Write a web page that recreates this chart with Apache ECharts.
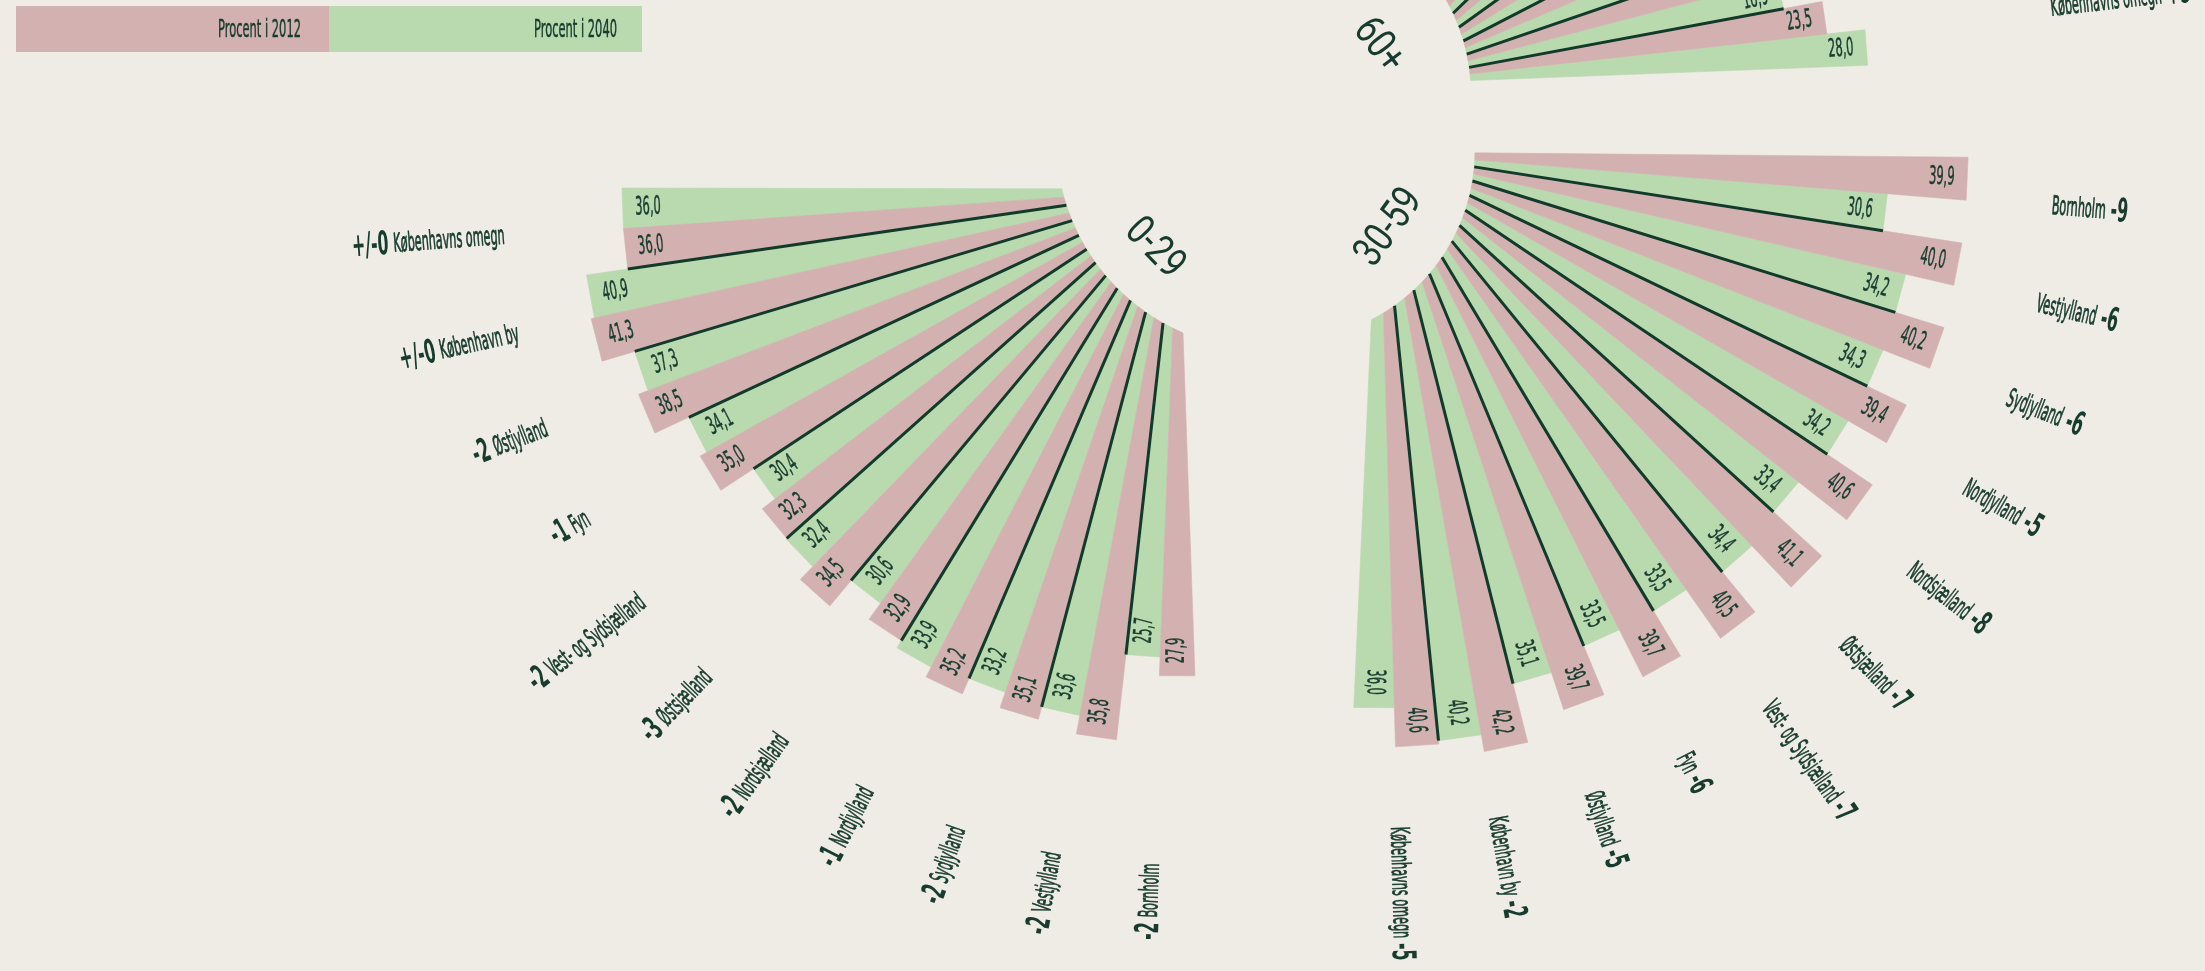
<!DOCTYPE html>
<html>
<head>
<meta charset="utf-8">
<title>Aldersfordeling 2012 og 2040</title>
<script src="https://cdn.jsdelivr.net/npm/echarts@6/dist/echarts.min.js"></script>
<style>
    html, body { margin: 0; padding: 0; background: #efece6; }
    #chart { width: 2205px; height: 971px; }
</style>
</head>
<body>
<div id="chart"></div>
<script>
// regions in the order they go round each fan (counter-clockwise)
const regions = ['Københavns omegn', 'København by', 'Østjylland', 'Fyn', 'Vest- og Sydsjælland',
    'Østsjælland', 'Nordsjælland', 'Nordjylland', 'Sydjylland', 'Vestjylland', 'Bornholm']

// 0-29 year olds, percent
const young2012 = [36.0, 41.3, 38.5, 35.0, 32.3, 34.5, 32.9, 35.2, 35.1, 35.8, 27.9]
const young2040 = [36.0, 40.9, 37.3, 34.1, 30.4, 32.4, 30.6, 33.9, 33.2, 33.6, 25.7]
const youngChange = ['+/-0', '+/-0', '-2', '-1', '-2', '-3', '-2', '-1', '-2', '-2', '-2']

// 30-59 year olds
const middle2012 = [40.6, 42.2, 39.7, 39.7, 40.5, 41.1, 40.6, 39.4, 40.2, 40.0, 39.9]
const middle2040 = [36.0, 40.2, 35.1, 33.5, 33.5, 34.4, 33.4, 34.2, 34.3, 34.2, 30.6]
const middleChange = ['-5', '-2', '-5', '-6', '-7', '-7', '-8', '-5', '-6', '-6', '-9']

// 60+ (mostly outside the picture, estimated)
const old2012 = [23.5, 16.5, 21.8, 25.3, 27.2, 24.4, 26.5, 25.4, 24.7, 24.2, 32.2]
const old2040 = [28.0, 18.9, 27.6, 32.4, 36.1, 33.2, 36.0, 31.9, 32.5, 32.2, 43.7]
const oldChange = ['+5', '+2', '+6', '+7', '+9', '+9', '+10', '+7', '+8', '+8', '+12']

const PINK = '#d3b1b0'
const GREEN = '#b9d9af'
const INK = '#173b2e'
const LINE = '#123a2b'
const BG = '#efece6'
const NARROW = '"Liberation Sans Narrow", "DejaVu Sans Condensed", "DejaVu Sans", sans-serif'

const RADIUS = 675      // px, the ring where the region names sit
const R_MIN = -29.4     // radius value at the fan centre
const R_MAX = 50        // radius value at the name ring
const TURN = 86         // angle units per full turn, one unit per bar

// hole: circle the bars start on, as [dx, dy, r] in px from the fan centre
const fans = [
    { name: '0-29', v2012: young2012, v2040: young2040, change: youngChange, center: [1178, 189], start: 179.9, inward: true, hole: [88, -49, 210] },
    { name: '30-59', v2012: middle2012, v2040: middle2040, change: middleChange, center: [1379, 152], start: 267.4, inward: false, hole: [-95, -2, 191] },
    { name: '60+', v2012: old2012, v2040: old2040, change: oldChange, center: [1380, 84], start: 2.2, inward: false, hole: [-100, 10, 191] }
]

const fmt = v => v.toFixed(1).replace('.', ',')

// unit vector pointing outwards along angle a
const outwards = (api, a) => {
    const c = api.coord([R_MIN, a])
    const q = api.coord([R_MAX, a])
    return [(q[0] - c[0]) / RADIUS, (q[1] - c[1]) / RADIUS]
}

// radius value where the ray at angle a leaves the hole circle
const holeValue = (fan, api, a) => {
    const u = outwards(api, a)
    const fx = -fan.hole[0]
    const fy = -fan.hole[1]
    const b = u[0] * fx + u[1] * fy
    const t = -b + Math.sqrt(b * b - (fx * fx + fy * fy - fan.hole[2] * fan.hole[2]))
    return R_MIN + t / RADIUS * (R_MAX - R_MIN)
}

// text reads towards the centre on the left fan, away from it on the others
const textRotation = (fan, d) => fan.inward ? -Math.atan2(-d[1], -d[0]) : -Math.atan2(d[1], d[0])

const barRows = (fan) => {
    const rows = []
    regions.forEach((r, i) => {
        rows.push([fan.v2040[i], 2 * i + 0.5, 0])
        rows.push([fan.v2012[i], 2 * i + 1.5, 1])
    })
    return rows
}

// dark line between two regions, as long as the shorter neighbour
const sepRows = (fan) => {
    const rows = []
    for (let i = 0; i < regions.length - 1; i++) {
        rows.push([Math.min(fan.v2012[i], fan.v2040[i + 1]), 2 * i + 2])
    }
    return rows
}

const nameRows = () => regions.map((r, i) => [R_MAX, 2 * i + 1, i])

const renderBar = (fan) => (params, api) => {
    const v = api.value(0)
    const a = api.value(1)
    const fill = api.value(2) === 1 ? PINK : GREEN
    const pts = [
        api.coord([holeValue(fan, api, a - 0.5), a - 0.5]),
        api.coord([holeValue(fan, api, a + 0.5), a + 0.5]),
        api.coord([v, a + 0.5]),
        api.coord([v, a - 0.5])
    ]
    const end = api.coord([v, a])
    const d = outwards(api, a)
    return {
        type: 'group',
        children: [
            { type: 'polygon', shape: { points: pts }, style: { fill: fill, stroke: fill, lineWidth: 0.6 } },
            {
                type: 'text',
                x: end[0] - d[0] * 13,
                y: end[1] - d[1] * 13,
                rotation: textRotation(fan, d),
                scaleX: 0.51,
                style: {
                    text: fmt(v),
                    fontSize: 25,
                    fontFamily: NARROW,
                    fill: INK,
                    stroke: INK,
                    lineWidth: 0.5,
                    align: fan.inward ? 'left' : 'right',
                    verticalAlign: 'middle'
                }
            }
        ]
    }
}

const renderSep = (fan) => (params, api) => {
    const a = api.value(1)
    const p = api.coord([holeValue(fan, api, a), a])
    const q = api.coord([api.value(0), a])
    return {
        type: 'line',
        shape: { x1: p[0], y1: p[1], x2: q[0], y2: q[1] },
        style: { stroke: LINE, lineWidth: 3 }
    }
}

const renderName = (fan) => (params, api) => {
    const a = api.value(1)
    const i = api.value(2)
    const p = api.coord([R_MAX, a])
    const d = outwards(api, a)
    const text = fan.inward
        ? '{d|' + fan.change[i] + '}   {n|' + regions[i] + '}'
        : '{n|' + regions[i] + '}   {d|' + fan.change[i] + '}'
    return {
        type: 'text',
        x: p[0],
        y: p[1],
        rotation: textRotation(fan, d),
        scaleX: 0.48,
        style: {
            text: text,
            align: fan.inward ? 'right' : 'left',
            verticalAlign: 'middle',
            rich: {
                n: { fontSize: 26, fontFamily: NARROW, fill: INK, stroke: INK, lineWidth: 0.8 },
                d: { fontSize: 33, fontFamily: '"DejaVu Sans", sans-serif', fontWeight: 'bold', fill: INK }
            }
        }
    }
}

const series = []
fans.forEach((fan, k) => {
    series.push({
        type: 'custom', coordinateSystem: 'polar', polarIndex: k, silent: true, z: 2,
        encode: { radius: 0, angle: 1 },
        renderItem: renderBar(fan),
        data: barRows(fan)
    })
    series.push({
        type: 'custom', coordinateSystem: 'polar', polarIndex: k, silent: true, z: 3,
        encode: { radius: 0, angle: 1 },
        renderItem: renderSep(fan),
        data: sepRows(fan)
    })
    series.push({
        type: 'custom', coordinateSystem: 'polar', polarIndex: k, silent: true, z: 3,
        encode: { radius: 0, angle: 1 },
        renderItem: renderName(fan),
        data: nameRows()
    })
})

const hidden = { show: false }
const deg = Math.PI / 180
const legendText = { fontSize: 25, fontFamily: NARROW, fill: INK, stroke: INK, lineWidth: 0.5, align: 'right', verticalAlign: 'middle' }
const ageText = { fontSize: 42, fontFamily: 'Roboto', fill: INK, align: 'center', verticalAlign: 'middle' }

const option = {
    backgroundColor: BG,
    animation: false,
    polar: fans.map(f => ({ center: f.center, radius: RADIUS })),
    angleAxis: fans.map((f, k) => ({
        polarIndex: k, type: 'value', min: 0, max: TURN,
        startAngle: f.start, clockwise: false,
        axisLine: hidden, axisTick: hidden, axisLabel: hidden, splitLine: hidden
    })),
    radiusAxis: fans.map((f, k) => ({
        polarIndex: k, type: 'value', min: R_MIN, max: R_MAX,
        axisLine: hidden, axisTick: hidden, axisLabel: hidden, splitLine: hidden
    })),
    graphic: [
        // legend
        { type: 'rect', shape: { x: 16, y: 6, width: 313, height: 46 }, style: { fill: PINK } },
        { type: 'rect', shape: { x: 329, y: 6, width: 313, height: 46 }, style: { fill: GREEN } },
        { type: 'text', x: 301, y: 30, scaleX: 0.51, style: Object.assign({ text: 'Procent i 2012' }, legendText) },
        { type: 'text', x: 617, y: 30, scaleX: 0.51, style: Object.assign({ text: 'Procent i 2040' }, legendText) },
        // age group names in the holes
        { type: 'text', x: 1154, y: 249, rotation: -46 * deg, scaleX: 0.8, style: Object.assign({ text: '0-29' }, ageText) },
        { type: 'text', x: 1390, y: 228, rotation: 54 * deg, scaleX: 0.8, style: Object.assign({ text: '30-59' }, ageText) },
        { type: 'text', x: 1378, y: 46, rotation: -53 * deg, scaleX: 0.8, style: Object.assign({ text: '60+' }, ageText) }
    ],
    series: series
}

const chart = echarts.init(document.getElementById('chart'))
chart.setOption(option)
</script>
</body>
</html>
